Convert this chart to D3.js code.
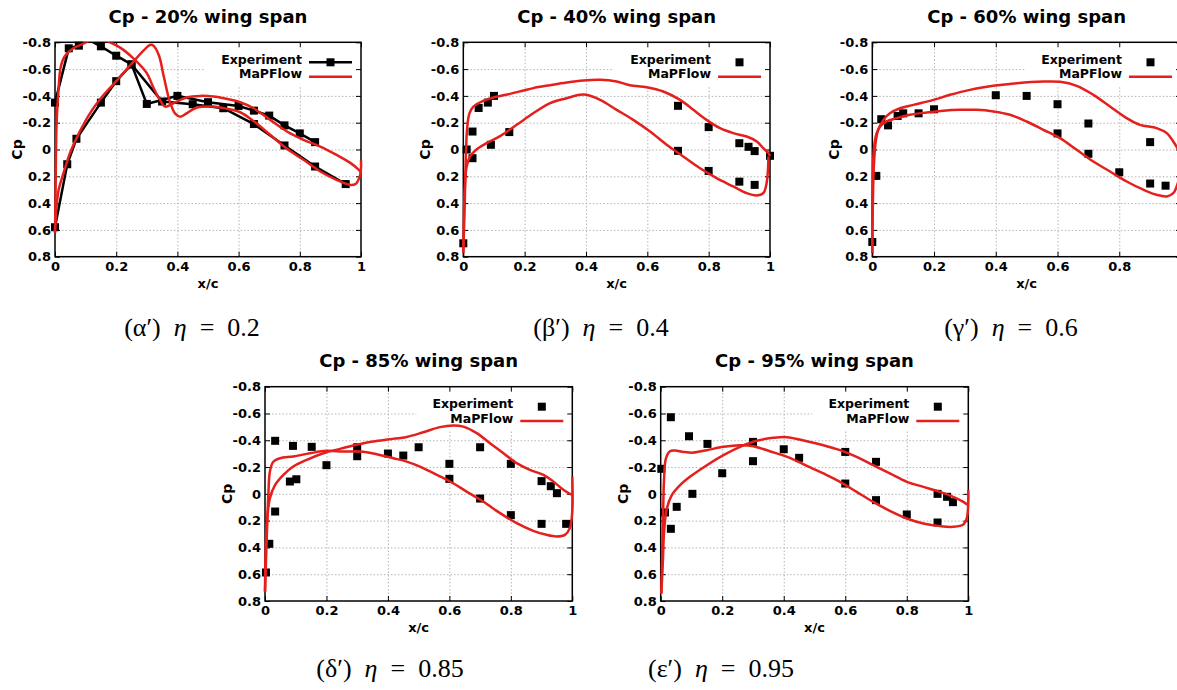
<!DOCTYPE html>
<html>
<head>
<meta charset="utf-8">
<script src="https://cdn.jsdelivr.net/npm/d3@7"></script>
<style>
body { margin: 0; background: #fff; }
svg text { font-family: "DejaVu Sans", sans-serif; }
.tick text { font-weight: bold; font-size: 13px; fill: #000; }
.grid line { stroke: #b4b4b4; stroke-dasharray: 1.5,2; stroke-width: 1; }
.grid path, .mirror path, .ax path { display: none; }
.caption { font-family: "Liberation Serif", serif; font-size: 26px; white-space: pre; }
</style>
</head>
<body>
<script>
// tick values shared by all five panels
var xTicks = [0, 0.2, 0.4, 0.6, 0.8, 1];
var cpTicks = [-0.8, -0.6, -0.4, -0.2, 0, 0.2, 0.4, 0.6, 0.8];

// ---- 20% span: experiment (joined by lines) and MaPFlow ----
var exp20Upper = [[0,-0.35],[0.045,-0.755],[0.078,-0.775],[0.1,-0.83],[0.15,-0.77],[0.2,-0.70],[0.25,-0.635],[0.3,-0.34],[0.4,-0.40],[0.5,-0.353],[0.6,-0.325],[0.65,-0.29],[0.7,-0.253],[0.75,-0.18],[0.8,-0.12],[0.85,-0.055]];
var exp20Lower = [[0,0.58],[0.04,0.11],[0.07,-0.08],[0.15,-0.35],[0.2,-0.51],[0.25,-0.635],[0.35,-0.358],[0.45,-0.338],[0.55,-0.308],[0.65,-0.19],[0.75,-0.03],[0.85,0.127],[0.95,0.258]];
var cfd20Upper = [[0,0.62],[0.002,0.3],[0.005,-0.18],[0.011,-0.43],[0.019,-0.62],[0.033,-0.7],[0.06,-0.755],[0.093,-0.79],[0.125,-0.82],[0.167,-0.81],[0.213,-0.76],[0.256,-0.68],[0.3,-0.57],[0.32,-0.47],[0.343,-0.37],[0.36,-0.32],[0.387,-0.345],[0.43,-0.388],[0.474,-0.4],[0.518,-0.395],[0.56,-0.378],[0.605,-0.353],[0.649,-0.308],[0.703,-0.221],[0.758,-0.134],[0.812,-0.072],[0.867,-0.022],[0.92,0.04],[0.965,0.1],[0.992,0.15],[1.0,0.17]];
var cfd20Lower = [[0,0.62],[0.004,0.45],[0.012,0.3],[0.03,0.16],[0.05,0.02],[0.08,-0.13],[0.12,-0.29],[0.16,-0.41],[0.2,-0.51],[0.25,-0.64],[0.29,-0.74],[0.31,-0.78],[0.322,-0.775],[0.34,-0.7],[0.355,-0.55],[0.375,-0.36],[0.392,-0.27],[0.41,-0.245],[0.43,-0.27],[0.46,-0.31],[0.51,-0.32],[0.56,-0.305],[0.605,-0.278],[0.65,-0.21],[0.703,-0.11],[0.758,-0.005],[0.812,0.077],[0.867,0.164],[0.92,0.226],[0.965,0.265],[0.982,0.258],[0.996,0.2],[1.0,0.14],[1.0,0.08]];

// ---- 40% span ----
var exp40 = [[0,0.70],[0.011,0.0],[0.03,-0.134],[0.03,0.065],[0.05,-0.31],[0.08,-0.35],[0.1,-0.40],[0.09,-0.035],[0.15,-0.13],[0.7,-0.326],[0.7,0.01],[0.8,-0.167],[0.8,0.16],[0.9,-0.047],[0.9,0.24],[0.93,-0.02],[0.95,0.012],[0.95,0.264],[1.0,0.047]];
var cfd40Upper = [[0,0.77],[0.005,0.376],[0.009,0.0],[0.013,-0.17],[0.02,-0.27],[0.033,-0.32],[0.06,-0.358],[0.098,-0.388],[0.152,-0.415],[0.196,-0.44],[0.228,-0.458],[0.283,-0.48],[0.337,-0.5],[0.391,-0.515],[0.446,-0.52],[0.5,-0.507],[0.543,-0.48],[0.598,-0.465],[0.652,-0.433],[0.707,-0.37],[0.75,-0.296],[0.793,-0.221],[0.837,-0.159],[0.88,-0.122],[0.924,-0.097],[0.957,-0.06],[0.978,-0.01],[0.995,0.027],[1.0,0.05]];
var cfd40Lower = [[0,0.77],[0.005,0.28],[0.011,0.127],[0.022,0.052],[0.043,0.0],[0.076,-0.047],[0.12,-0.10],[0.174,-0.184],[0.228,-0.27],[0.283,-0.346],[0.337,-0.383],[0.38,-0.408],[0.402,-0.408],[0.446,-0.37],[0.5,-0.296],[0.554,-0.221],[0.609,-0.134],[0.663,-0.035],[0.717,0.052],[0.772,0.14],[0.826,0.214],[0.88,0.276],[0.924,0.326],[0.957,0.343],[0.978,0.326],[0.989,0.25],[0.995,0.052]];

// ---- 60% span ----
var exp60 = [[0,0.69],[0.013,0.197],[0.029,-0.226],[0.051,-0.18],[0.082,-0.25],[0.1,-0.27],[0.15,-0.27],[0.2,-0.30],[0.4,-0.405],[0.5,-0.40],[0.6,-0.338],[0.6,-0.12],[0.7,-0.194],[0.7,0.032],[0.8,0.17],[0.9,-0.055],[0.9,0.254],[0.95,0.27]];
var cfd60Upper = [[0,0.77],[0.005,0.127],[0.012,-0.072],[0.019,-0.147],[0.036,-0.221],[0.057,-0.27],[0.09,-0.308],[0.133,-0.333],[0.198,-0.37],[0.252,-0.408],[0.316,-0.445],[0.392,-0.475],[0.468,-0.495],[0.554,-0.507],[0.608,-0.505],[0.662,-0.475],[0.716,-0.408],[0.77,-0.321],[0.824,-0.234],[0.867,-0.184],[0.921,-0.16],[0.954,-0.122],[0.975,-0.06],[0.991,0.0],[1.0,0.03]];
var cfd60Lower = [[0,0.77],[0.005,0.0],[0.014,-0.12],[0.025,-0.17],[0.046,-0.21],[0.079,-0.234],[0.122,-0.259],[0.176,-0.276],[0.23,-0.289],[0.284,-0.296],[0.338,-0.296],[0.392,-0.284],[0.446,-0.259],[0.5,-0.209],[0.554,-0.147],[0.608,-0.085],[0.662,0.002],[0.716,0.09],[0.77,0.164],[0.824,0.239],[0.878,0.3],[0.921,0.338],[0.954,0.35],[0.975,0.326],[0.986,0.276],[0.997,0.18],[1.0,0.08]];

// ---- 85% span ----
var exp85 = [[0.003,0.587],[0.014,0.373],[0.033,0.132],[0.033,-0.396],[0.081,-0.092],[0.102,-0.109],[0.091,-0.358],[0.152,-0.351],[0.2,-0.214],[0.3,-0.281],[0.3,-0.348],[0.4,-0.301],[0.45,-0.286],[0.5,-0.348],[0.6,-0.224],[0.6,-0.112],[0.7,-0.348],[0.7,0.035],[0.8,-0.224],[0.8,0.159],[0.9,-0.095],[0.9,0.224],[0.93,-0.057],[0.95,-0.005],[0.98,0.224]];
var cfd85Upper = [[0,0.73],[0.005,0.256],[0.016,0.032],[0.033,-0.067],[0.06,-0.142],[0.092,-0.204],[0.136,-0.254],[0.19,-0.303],[0.244,-0.336],[0.298,-0.366],[0.352,-0.391],[0.407,-0.408],[0.461,-0.425],[0.515,-0.46],[0.569,-0.498],[0.613,-0.51],[0.645,-0.502],[0.689,-0.453],[0.732,-0.378],[0.776,-0.303],[0.819,-0.229],[0.862,-0.179],[0.906,-0.142],[0.938,-0.092],[0.971,-0.03],[0.992,0.0],[1.0,0.005]];
var cfd85Lower = [[0,0.73],[0.005,0.38],[0.011,0.0],[0.016,-0.167],[0.027,-0.24],[0.049,-0.266],[0.092,-0.279],[0.146,-0.303],[0.2,-0.321],[0.255,-0.316],[0.309,-0.316],[0.363,-0.296],[0.418,-0.266],[0.461,-0.241],[0.504,-0.204],[0.548,-0.154],[0.602,-0.092],[0.656,-0.017],[0.71,0.057],[0.765,0.144],[0.819,0.219],[0.873,0.276],[0.916,0.306],[0.949,0.318],[0.976,0.306],[0.992,0.256],[1.0,0.13],[1.0,-0.13]];

// ---- 95% span ----
var exp95 = [[0.002,-0.187],[0.014,0.139],[0.033,-0.572],[0.033,0.261],[0.052,0.097],[0.092,-0.43],[0.103,0.0],[0.152,-0.373],[0.2,-0.154],[0.3,-0.388],[0.3,-0.244],[0.4,-0.333],[0.45,-0.269],[0.6,-0.313],[0.6,-0.077],[0.7,-0.239],[0.7,0.047],[0.8,0.154],[0.9,0.0],[0.9,0.214],[0.931,0.022],[0.95,0.062]];
var cfd95Upper = [[0.002,0.744],[0.007,0.507],[0.011,0.284],[0.02,0.11],[0.036,0.01],[0.063,-0.065],[0.095,-0.127],[0.15,-0.214],[0.204,-0.289],[0.258,-0.351],[0.312,-0.396],[0.366,-0.418],[0.41,-0.423],[0.475,-0.393],[0.529,-0.363],[0.583,-0.326],[0.637,-0.276],[0.691,-0.214],[0.745,-0.152],[0.8,-0.09],[0.854,-0.052],[0.908,-0.015],[0.951,0.022],[0.984,0.06],[1.0,0.085]];
var cfd95Lower = [[0.002,0.744],[0.007,0.26],[0.011,-0.114],[0.017,-0.264],[0.03,-0.318],[0.047,-0.323],[0.074,-0.313],[0.106,-0.308],[0.15,-0.326],[0.204,-0.351],[0.258,-0.363],[0.301,-0.356],[0.355,-0.318],[0.42,-0.269],[0.475,-0.209],[0.529,-0.152],[0.583,-0.09],[0.637,-0.015],[0.691,0.06],[0.745,0.127],[0.8,0.184],[0.854,0.221],[0.908,0.241],[0.951,0.246],[0.984,0.229],[0.995,0.184],[1.0,0.06],[1.0,-0.03]];

var titles = ["Cp - 20% wing span", "Cp - 40% wing span", "Cp - 60% wing span", "Cp - 85% wing span", "Cp - 95% wing span"];
var captionLetters = ["α′", "β′", "γ′", "δ′", "ε′"];
var etaValues = ["0.2", "0.4", "0.6", "0.85", "0.95"];

var red = "#e41f1c";

// panel boxes (pixels) and caption anchor
var panels = [
  {left: 55, right: 361, top: 42.3, bottom: 256.7, capX: 192, capY: 336, exp: null, expLines: [exp20Upper, exp20Lower], cfd: [cfd20Upper, cfd20Lower]},
  {left: 463.3, right: 770, top: 42.3, bottom: 256.7, capX: 601, capY: 336, exp: exp40, cfd: [cfd40Upper, cfd40Lower]},
  {left: 872.3, right: 1181, top: 42.3, bottom: 256.7, capX: 1011, capY: 336, exp: exp60, cfd: [cfd60Upper, cfd60Lower]},
  {left: 265, right: 572.3, top: 386.7, bottom: 601, capX: 390, capY: 677, exp: exp85, cfd: [cfd85Upper, cfd85Lower]},
  {left: 660.7, right: 968.3, top: 386.7, bottom: 601, capX: 721, capY: 677, exp: exp95, cfd: [cfd95Upper, cfd95Lower]}
];

var svg = d3.select("body").append("svg")
    .attr("width", 1177)
    .attr("height", 690);

panels.forEach(function(p, i) {
  var x = d3.scaleLinear().domain([0, 1]).range([p.left, p.right]);
  var y = d3.scaleLinear().domain([-0.8, 0.8]).range([p.top, p.bottom]);
  var w = p.right - p.left, h = p.bottom - p.top;
  var g = svg.append("g");

  g.append("clipPath").attr("id", "clip" + i)
    .append("rect")
      .attr("x", p.left - 4).attr("y", p.top)
      .attr("width", w + 8).attr("height", h);

  // grid
  g.append("g").attr("class", "grid")
      .attr("transform", "translate(0," + p.bottom + ")")
      .call(d3.axisBottom(x).tickValues(xTicks.slice(1, -1)).tickSize(-h).tickFormat(""));
  g.append("g").attr("class", "grid")
      .attr("transform", "translate(" + p.left + ",0)")
      .call(d3.axisLeft(y).tickValues(cpTicks.slice(1, -1)).tickSize(-w).tickFormat(""));

  // legend background hides the grid
  g.append("rect")
      .attr("x", p.right - 156).attr("y", p.top + 1)
      .attr("width", 155).attr("height", 43)
      .attr("fill", "#fff");

  // axes, ticks point inward
  g.append("g").attr("class", "ax")
      .attr("transform", "translate(0," + p.bottom + ")")
      .call(d3.axisBottom(x).tickValues(xTicks).tickSize(-5).tickPadding(5)
        .tickFormat(function(d) { return String(d); }));
  g.append("g").attr("class", "ax")
      .attr("transform", "translate(" + p.left + ",0)")
      .call(d3.axisLeft(y).tickValues(cpTicks).tickSize(-5).tickPadding(4)
        .tickFormat(function(d) { return d === 0 ? "0" : d.toFixed(1); }));
  g.append("g").attr("class", "mirror")
      .attr("transform", "translate(0," + p.top + ")")
      .call(d3.axisTop(x).tickValues(xTicks).tickSize(-5).tickFormat(""));
  g.append("g").attr("class", "mirror")
      .attr("transform", "translate(" + p.right + ",0)")
      .call(d3.axisRight(y).tickValues(cpTicks).tickSize(-5).tickFormat(""));
  g.selectAll(".ax .tick line, .mirror .tick line").attr("stroke", "#000");

  g.append("rect")
      .attr("x", p.left).attr("y", p.top)
      .attr("width", w).attr("height", h)
      .attr("fill", "none").attr("stroke", "#000").attr("stroke-width", 1.5);

  // titles and axis labels
  g.append("text")
      .attr("x", (p.left + p.right) / 2).attr("y", p.top - 19.5)
      .attr("text-anchor", "middle")
      .style("font-size", "18px").style("font-weight", "bold")
      .text(titles[i]);
  g.append("text")
      .attr("transform", "translate(" + (p.left - 33) + "," + ((p.top + p.bottom) / 2) + ") rotate(-90)")
      .attr("text-anchor", "middle")
      .style("font-size", "14px").style("font-weight", "bold")
      .text("Cp");
  g.append("text")
      .attr("x", (p.left + p.right) / 2).attr("y", p.bottom + 31)
      .attr("text-anchor", "middle")
      .style("font-size", "13px").style("font-weight", "bold")
      .text("x/c");

  var line = d3.line()
      .x(function(d) { return x(d[0]); })
      .y(function(d) { return y(d[1]); });
  var inside = function(d) { return d[1] >= -0.8 && d[1] <= 0.8; };

  // experiment
  var pts = [];
  if (p.expLines) {
    p.expLines.forEach(function(s) {
      g.append("path").datum(s)
          .attr("clip-path", "url(#clip" + i + ")")
          .attr("fill", "none").attr("stroke", "#000").attr("stroke-width", 2.5)
          .attr("d", line);
      pts = pts.concat(s);
    });
  } else {
    pts = p.exp;
  }
  g.selectAll(".sq").data(pts.filter(inside)).enter().append("rect")
      .attr("class", "sq")
      .attr("x", function(d) { return x(d[0]) - 4; })
      .attr("y", function(d) { return y(d[1]) - 4; })
      .attr("width", 8).attr("height", 8)
      .attr("fill", "#000");

  // MaPFlow
  var smooth = d3.line()
      .curve(d3.curveCatmullRom.alpha(0.5))
      .x(function(d) { return x(d[0]); })
      .y(function(d) { return y(d[1]); });
  p.cfd.forEach(function(s) {
    g.append("path").datum(s)
        .attr("clip-path", "url(#clip" + i + ")")
        .attr("fill", "none").attr("stroke", red).attr("stroke-width", 2.5)
        .attr("stroke-linejoin", "round")
        .attr("d", smooth);
  });

  // legend
  var lx = p.right - 59;
  g.append("text").attr("x", lx).attr("y", p.top + 21.5)
      .attr("text-anchor", "end")
      .style("font-size", "12.5px").style("font-weight", "bold")
      .text("Experiment");
  g.append("text").attr("x", lx).attr("y", p.top + 36)
      .attr("text-anchor", "end")
      .style("font-size", "12.5px").style("font-weight", "bold")
      .text("MaPFlow");
  if (p.expLines) {
    g.append("line")
        .attr("x1", p.right - 52).attr("x2", p.right - 9)
        .attr("y1", p.top + 20).attr("y2", p.top + 20)
        .attr("stroke", "#000").attr("stroke-width", 2.5);
  }
  g.append("rect")
      .attr("x", p.right - 34.5).attr("y", p.top + 16)
      .attr("width", 8).attr("height", 8).attr("fill", "#000");
  g.append("line")
      .attr("x1", p.right - 52).attr("x2", p.right - 9)
      .attr("y1", p.top + 34.4).attr("y2", p.top + 34.4)
      .attr("stroke", red).attr("stroke-width", 2.5);

  // caption under the panel
  var cap = svg.append("text").attr("class", "caption")
      .attr("x", p.capX).attr("y", p.capY)
      .attr("text-anchor", "middle");
  cap.append("tspan").text("(" + captionLetters[i] + ")  ");
  cap.append("tspan").style("font-style", "italic").text("η");
  cap.append("tspan").text("  =  " + etaValues[i]);
});
</script>
</body>
</html>
